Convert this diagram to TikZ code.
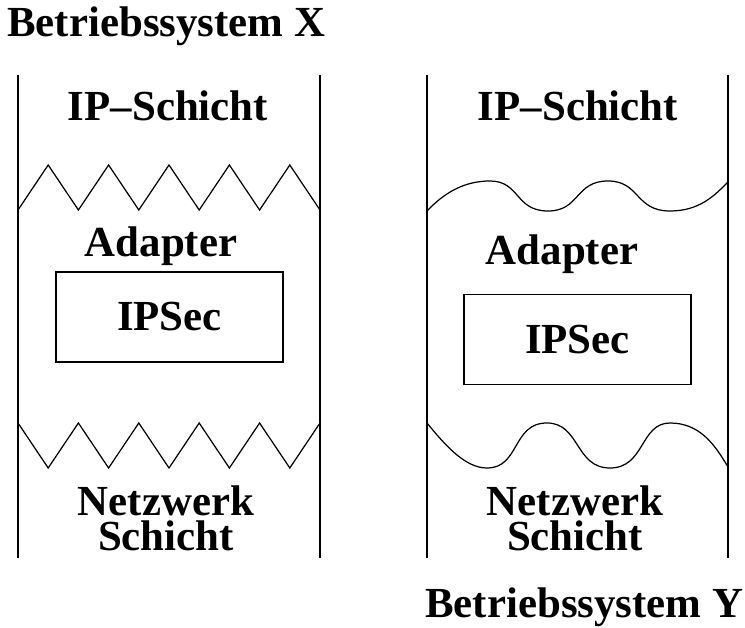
\documentclass[tikz,border=0pt]{standalone}
\usepackage{fontspec}
\setmainfont{Liberation Serif}
\usepackage{tikz}
\usetikzlibrary{positioning}
\tikzstyle{label} = [font=\fontsize{24.4}{29}\selectfont\bfseries, inner sep=0pt]
\tikzstyle{twoline} = [label, align=center, font=\fontsize{24.4}{20.2}\selectfont\bfseries]
\tikzstyle{modulebox} = [rectangle, draw, line width=0.7pt, minimum width=4.54cm, minimum height=1.8cm, inner sep=0pt, text centered, font=\fontsize{24.4}{29}\selectfont\bfseries]
\tikzstyle{wall} = [line width=0.7pt]

\begin{document}
\begin{tikzpicture}[x=0.02cm, y=-0.02cm]
\useasboundingbox (0,0) rectangle (745,628);

% System X
\node[label, anchor=base west] (osx) at (7,37) {Betriebssystem X};
\draw[wall] (18,75) -- (18,558);
\draw[wall] (320,75) -- (320,558);
\node[label, anchor=base] (ipx) at (168,121) {IP--Schicht};
\draw[wall] (18,210) \foreach \i in {0,...,4} { -- ({48.2+60.4*\i},165) -- ({78.4+60.4*\i},210) };
\node[label, anchor=base] (adx) at (161,257) {Adapter};
\node[modulebox] (ipsecx) at (169.5,317) {IPSec};
\draw[wall] (18,423) \foreach \i in {0,...,4} { -- ({48.2+60.4*\i},468) -- ({78.4+60.4*\i},423) };
\node[twoline, anchor=north] (netx) at (166,485) {Netzwerk\\Schicht};

% System Y
\draw[wall] (427,75) -- (427,558);
\draw[wall] (728,75) -- (728,558);
\node[label, anchor=base] (ipy) at (578,121) {IP--Schicht};
\draw[wall] (427,211) .. controls (445,192) and (465,181) .. (490,181)
  .. controls (520,181) and (515,211) .. (548,211)
  .. controls (580,211) and (575,181) .. (608,181)
  .. controls (640,181) and (635,211) .. (670,211)
  .. controls (700,211) and (715,195) .. (728,182);
\node[label, anchor=base] (ady) at (562,265) {Adapter};
\node[modulebox] (ipsecy) at (577.5,339.5) {IPSec};
\draw[wall] (427,423) .. controls (445,445) and (465,468) .. (487,468)
  .. controls (520,468) and (512,423) .. (547,423)
  .. controls (580,423) and (575,468) .. (610,468)
  .. controls (645,468) and (640,423) .. (670,423)
  .. controls (700,423) and (715,445) .. (728,467);
\node[twoline, anchor=north] (nety) at (575,485) {Netzwerk\\Schicht};
\node[label, anchor=base west] (osy) at (425,618) {Betriebssystem Y};
\end{tikzpicture}
\end{document}
